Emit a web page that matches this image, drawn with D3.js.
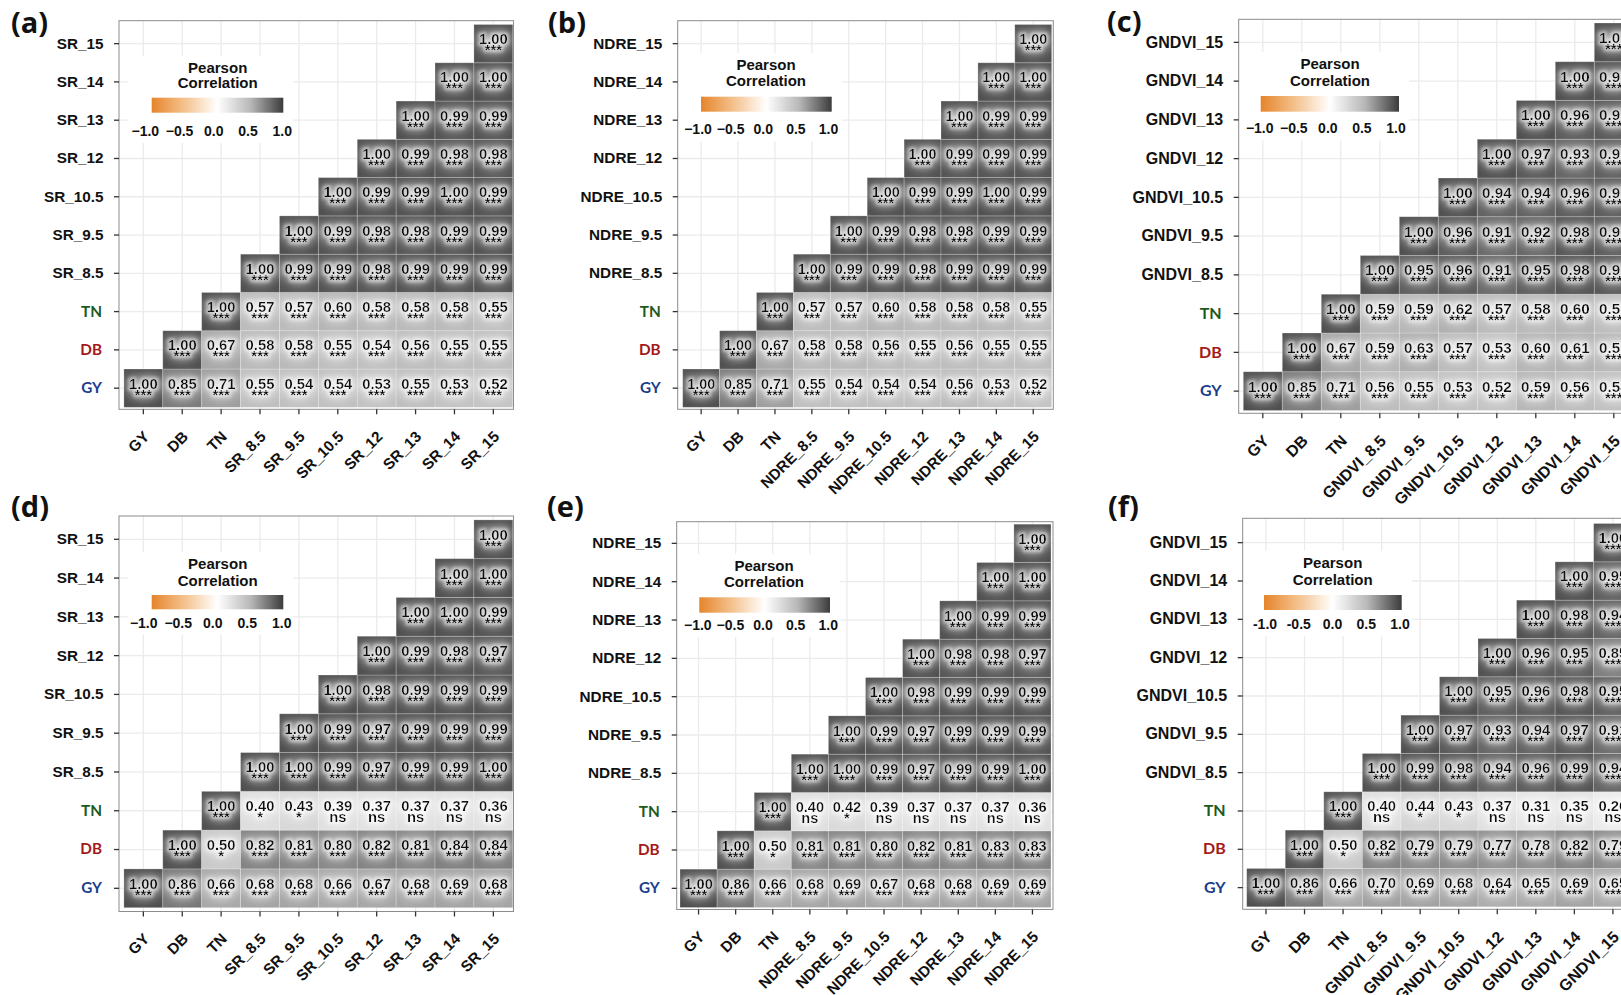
<!DOCTYPE html>
<html>
<head>
<meta charset="utf-8">
<script src="https://cdn.jsdelivr.net/npm/d3@7"></script>
<style>
  html, body { margin: 0; padding: 0; background: #fff; }
  svg { display: block; }
</style>
</head>
<body>
<svg id="fig" width="1621" height="995"></svg>
<script>
// ---- variables shown on both axes ----
const traits = ["GY", "DB", "TN"];
const stages = ["8.5", "9.5", "10.5", "12", "13", "14", "15"];

// ---- Pearson r, one row per variable (GY first), each row read from the diagonal to the right ----
const corrA = [
  [1.00, 0.85, 0.71, 0.55, 0.54, 0.54, 0.53, 0.55, 0.53, 0.52],
  [1.00, 0.67, 0.58, 0.58, 0.55, 0.54, 0.56, 0.55, 0.55],
  [1.00, 0.57, 0.57, 0.60, 0.58, 0.58, 0.58, 0.55],
  [1.00, 0.99, 0.99, 0.98, 0.99, 0.99, 0.99],
  [1.00, 0.99, 0.98, 0.98, 0.99, 0.99],
  [1.00, 0.99, 0.99, 1.00, 0.99],
  [1.00, 0.99, 0.98, 0.98],
  [1.00, 0.99, 0.99],
  [1.00, 1.00],
  [1.00]
];
const corrB = [
  [1.00, 0.85, 0.71, 0.55, 0.54, 0.54, 0.54, 0.56, 0.53, 0.52],
  [1.00, 0.67, 0.58, 0.58, 0.56, 0.55, 0.56, 0.55, 0.55],
  [1.00, 0.57, 0.57, 0.60, 0.58, 0.58, 0.58, 0.55],
  [1.00, 0.99, 0.99, 0.98, 0.99, 0.99, 0.99],
  [1.00, 0.99, 0.98, 0.98, 0.99, 0.99],
  [1.00, 0.99, 0.99, 1.00, 0.99],
  [1.00, 0.99, 0.99, 0.99],
  [1.00, 0.99, 0.99],
  [1.00, 1.00],
  [1.00]
];
const corrC = [
  [1.00, 0.85, 0.71, 0.56, 0.55, 0.53, 0.52, 0.59, 0.56, 0.54],
  [1.00, 0.67, 0.59, 0.63, 0.57, 0.53, 0.60, 0.61, 0.59],
  [1.00, 0.59, 0.59, 0.62, 0.57, 0.58, 0.60, 0.56],
  [1.00, 0.95, 0.96, 0.91, 0.95, 0.98, 0.97],
  [1.00, 0.96, 0.91, 0.92, 0.98, 0.96],
  [1.00, 0.94, 0.94, 0.96, 0.96],
  [1.00, 0.97, 0.93, 0.95],
  [1.00, 0.96, 0.97],
  [1.00, 0.98],
  [1.00]
];
const corrD = [
  [1.00, 0.86, 0.66, 0.68, 0.68, 0.66, 0.67, 0.68, 0.69, 0.68],
  [1.00, 0.50, 0.82, 0.81, 0.80, 0.82, 0.81, 0.84, 0.84],
  [1.00, 0.40, 0.43, 0.39, 0.37, 0.37, 0.37, 0.36],
  [1.00, 1.00, 0.99, 0.97, 0.99, 0.99, 1.00],
  [1.00, 0.99, 0.97, 0.99, 0.99, 0.99],
  [1.00, 0.98, 0.99, 0.99, 0.99],
  [1.00, 0.99, 0.98, 0.97],
  [1.00, 1.00, 0.99],
  [1.00, 1.00],
  [1.00]
];
const corrE = [
  [1.00, 0.86, 0.66, 0.68, 0.69, 0.67, 0.68, 0.68, 0.69, 0.69],
  [1.00, 0.50, 0.81, 0.81, 0.80, 0.82, 0.81, 0.83, 0.83],
  [1.00, 0.40, 0.42, 0.39, 0.37, 0.37, 0.37, 0.36],
  [1.00, 1.00, 0.99, 0.97, 0.99, 0.99, 1.00],
  [1.00, 0.99, 0.97, 0.99, 0.99, 0.99],
  [1.00, 0.98, 0.99, 0.99, 0.99],
  [1.00, 0.98, 0.98, 0.97],
  [1.00, 0.99, 0.99],
  [1.00, 1.00],
  [1.00]
];
const corrF = [
  [1.00, 0.86, 0.66, 0.70, 0.69, 0.68, 0.64, 0.65, 0.69, 0.65],
  [1.00, 0.50, 0.82, 0.79, 0.79, 0.77, 0.78, 0.82, 0.79],
  [1.00, 0.40, 0.44, 0.43, 0.37, 0.31, 0.35, 0.26],
  [1.00, 0.99, 0.98, 0.94, 0.96, 0.99, 0.94],
  [1.00, 0.97, 0.93, 0.94, 0.97, 0.91],
  [1.00, 0.95, 0.96, 0.98, 0.95],
  [1.00, 0.96, 0.95, 0.85],
  [1.00, 0.98, 0.94],
  [1.00, 0.95],
  [1.00]
];

// ---- significance codes (rows not listed are all "***") ----
const sigA = [], sigB = [], sigC = [];
const sigD = [
  ["***", "***", "***", "***", "***", "***", "***", "***", "***", "***"],
  ["***", "*", "***", "***", "***", "***", "***", "***", "***"],
  ["***", "*", "*", "ns", "ns", "ns", "ns", "ns"]
];
const sigE = [
  ["***", "***", "***", "***", "***", "***", "***", "***", "***", "***"],
  ["***", "*", "***", "***", "***", "***", "***", "***", "***"],
  ["***", "ns", "*", "ns", "ns", "ns", "ns", "ns"]
];
const sigF = [
  ["***", "***", "***", "***", "***", "***", "***", "***", "***", "***"],
  ["***", "*", "***", "***", "***", "***", "***", "***", "***"],
  ["***", "ns", "*", "*", "ns", "ns", "ns", "ns"]
];

// ---- legend ----
const legendTicks = [-1, -0.5, 0, 0.5, 1];

// ---- styling / layout ----
const traitColor = { GY: "#1b3c8c", DB: "#a31818", TN: "#1e5a1e" };
const FONT = "'Liberation Sans', Arial, sans-serif";
const TRAIT_FONT = "Lato, 'Open Sans', sans-serif";
const LETTER_FONT = "'Open Sans', Lato, sans-serif";

const panels = [
  { letter: "(a)", index: "SR", corr: corrA, sig: sigA,
    box: [119, 20.7, 513.5, 409.3], cells: [123.9, 24.5, 512.8, 407.3],
    axisFont: 15.3, cellFont: 14.8, letterPos: [11, 33], minus: "\u2212",
    legend: { cx: 217.7, t1: 72.7, t2: 88.3, bar: [151.7, 97.7, 283.3, 112.7], lab: 136, labX: [145.3, 282.3] } },
  { letter: "(b)", index: "NDRE", corr: corrB, sig: sigB,
    box: [677.7, 20.7, 1053.3, 409.3], cells: [682.7, 24.5, 1051.7, 407.3],
    axisFont: 15.3, cellFont: 14.4, letterPos: [548, 33], minus: "\u2212",
    legend: { cx: 766, t1: 70, t2: 86, bar: [701, 96.7, 831.7, 111.7], lab: 134.3, labX: [698, 828.5] } },
  { letter: "(c)", index: "GNDVI", corr: corrC, sig: sigC,
    box: [1238.7, 19.3, 1640, 413.3], cells: [1243.3, 23, 1633.3, 410.5],
    axisFont: 16, cellFont: 15.2, letterPos: [1107, 32], minus: "\u2212",
    legend: { cx: 1330, t1: 69, t2: 86, bar: [1260.7, 96, 1399, 111.7], lab: 133.3, labX: [1259.7, 1396] } },
  { letter: "(d)", index: "SR", corr: corrD, sig: sigD,
    box: [119, 516, 513.5, 911.5], cells: [123.9, 519.9, 512.8, 907.7],
    axisFont: 15.3, cellFont: 14.8, letterPos: [11, 517], minus: "\u2212",
    legend: { cx: 217.7, t1: 569.3, t2: 586, bar: [151.7, 595, 283.3, 609.3], lab: 627.7, labX: [143.7, 281.8] } },
  { letter: "(e)", index: "NDRE", corr: corrE, sig: sigE,
    box: [676.7, 521.7, 1053, 909.5], cells: [680, 524.2, 1051, 907.5],
    axisFont: 15.3, cellFont: 14.6, letterPos: [547, 517], minus: "\u2212",
    legend: { cx: 764, t1: 571, t2: 587.3, bar: [699.3, 597.3, 830, 612.7], lab: 630, labX: [697.8, 828.3] } },
  { letter: "(f)", index: "GNDVI", corr: corrF, sig: sigF,
    box: [1242.7, 518.3, 1640, 909.3], cells: [1246.7, 523.5, 1632.2, 906.8],
    axisFont: 16, cellFont: 14.8, letterPos: [1108, 517], minus: "-",
    legend: { cx: 1332.7, t1: 567.7, t2: 585, bar: [1264, 595, 1401.7, 610], lab: 629.3, labX: [1265, 1400] } }
];

// fill scale: orange (negative) -> white (0) -> dark grey (positive)
const fill = d3.scaleLinear()
  .domain([-1, -0.5, 0, 0.4, 0.55, 0.7, 0.85, 1])
  .range(["#e5852b", "#f4c28e", "#ffffff", "#dedede", "#bebebe", "#a0a0a0", "#7a7a7a", "#4e4e4e"])
  .interpolate(d3.interpolateRgb)
  .clamp(true);
// colour bar runs to a slightly deeper grey at +1
const barFill = d3.scaleLinear()
  .domain([-1, -0.5, 0, 0.5, 1])
  .range(["#e5852b", "#f4c28e", "#ffffff", "#b8b8b8", "#3c3c3c"]);

const svg = d3.select("#fig");
svg.append("rect").attr("width", 1621).attr("height", 995).attr("fill", "#fff");
const defs = svg.append("defs");

// soft, diffuse white halo behind the cell labels
const halo = defs.append("filter").attr("id", "halo")
  .attr("x", "-90%").attr("y", "-140%").attr("width", "280%").attr("height", "380%");
halo.append("feMorphology").attr("in", "SourceAlpha").attr("operator", "dilate").attr("radius", 1.5).attr("result", "thick");
halo.append("feGaussianBlur").attr("in", "thick").attr("stdDeviation", 6).attr("result", "soft");
halo.append("feFlood").attr("flood-color", "#fff").attr("flood-opacity", 0.8).attr("result", "white");
halo.append("feComposite").attr("in", "white").attr("in2", "soft").attr("operator", "in").attr("result", "glow");
halo.append("feGaussianBlur").attr("in", "thick").attr("stdDeviation", 1.5).attr("result", "tight");
halo.append("feFlood").attr("flood-color", "#fff").attr("flood-opacity", 0.45).attr("result", "white2");
halo.append("feComposite").attr("in", "white2").attr("in2", "tight").attr("operator", "in").attr("result", "glow2");
const hm = halo.append("feMerge");
hm.append("feMergeNode").attr("in", "glow");
hm.append("feMergeNode").attr("in", "glow2");
hm.append("feMergeNode").attr("in", "SourceGraphic");

// colour bar gradient (shared)
const grad = defs.append("linearGradient").attr("id", "corrbar")
  .attr("x1", "0%").attr("x2", "100%").attr("y1", "0%").attr("y2", "0%");
d3.range(0, 41).forEach(i => {
  const v = -1 + i / 20;
  grad.append("stop").attr("offset", (i / 40 * 100) + "%").attr("stop-color", barFill(v));
});

panels.forEach(p => {
  const vars = traits.concat(stages.map(s => p.index + "_" + s));
  const x = d3.scaleBand().domain(vars).range([p.cells[0], p.cells[2]]);
  const y = d3.scaleBand().domain(vars).range([p.cells[3], p.cells[1]]);
  const bw = x.bandwidth(), bh = y.bandwidth();
  const g = svg.append("g");

  // panel background + grid
  g.append("rect").attr("x", p.box[0]).attr("y", p.box[1])
    .attr("width", p.box[2] - p.box[0]).attr("height", p.box[3] - p.box[1]).attr("fill", "#fff");
  g.append("g").selectAll("line").data(vars).join("line")
    .attr("x1", d => x(d) + bw / 2).attr("x2", d => x(d) + bw / 2)
    .attr("y1", p.box[1]).attr("y2", p.box[3])
    .attr("stroke", "#ebebeb").attr("stroke-width", 1.3);
  g.append("g").selectAll("line").data(vars).join("line")
    .attr("y1", d => y(d) + bh / 2).attr("y2", d => y(d) + bh / 2)
    .attr("x1", p.box[0]).attr("x2", p.box[2])
    .attr("stroke", "#ebebeb").attr("stroke-width", 1.3);

  // cells (upper-right triangle incl. diagonal)
  const cells = [];
  p.corr.forEach((row, i) => row.forEach((r, k) => {
    const sigRow = p.sig[i];
    cells.push({ row: vars[i], col: vars[i + k], r: r, sig: (sigRow && sigRow[k]) || "***" });
  }));

  const tiles = g.append("g");
  tiles.selectAll("rect").data(cells).join("rect")
    .attr("x", d => x(d.col)).attr("y", d => y(d.row))
    .attr("width", bw).attr("height", bh)
    .attr("fill", d => fill(d.r))
    .attr("stroke", "rgba(255,255,255,0.28)").attr("stroke-width", 0.8);

  const lab = g.append("g").selectAll("g").data(cells).join("g")
    .attr("filter", "url(#halo)")
    .attr("transform", d => `translate(${x(d.col) + bw / 2},${y(d.row) + bh / 2})`)
    .attr("font-family", FONT).attr("font-weight", "bold")
    .attr("font-size", p.cellFont).attr("fill", "#111").attr("text-anchor", "middle");
  lab.append("text").attr("y", 0.5).text(d => d.r.toFixed(2));
  lab.append("text").attr("y", 11.5).text(d => d.sig);

  // legend (inside the panel, top-left)
  const L = p.legend;
  g.append("rect")
    .attr("x", L.bar[0] - 24).attr("y", L.t1 - 17)
    .attr("width", L.bar[2] - L.bar[0] + 34).attr("height", L.lab + 7 - (L.t1 - 17))
    .attr("fill", "#fff");
  g.append("text").attr("x", L.cx).attr("y", L.t1).attr("text-anchor", "middle")
    .attr("font-family", FONT).attr("font-weight", "bold").attr("font-size", 15).attr("fill", "#111")
    .text("Pearson");
  g.append("text").attr("x", L.cx).attr("y", L.t2).attr("text-anchor", "middle")
    .attr("font-family", FONT).attr("font-weight", "bold").attr("font-size", 15).attr("fill", "#111")
    .text("Correlation");
  g.append("rect").attr("x", L.bar[0]).attr("y", L.bar[1])
    .attr("width", L.bar[2] - L.bar[0]).attr("height", L.bar[3] - L.bar[1])
    .attr("fill", "url(#corrbar)");
  const lx = d3.scaleLinear().domain([-1, 1]).range(L.labX);
  g.append("g").selectAll("text").data(legendTicks).join("text")
    .attr("x", d => lx(d)).attr("y", L.lab).attr("text-anchor", "middle")
    .attr("font-family", FONT).attr("font-weight", "bold").attr("font-size", 14).attr("fill", "#111")
    .text(d => d3.format(".1f")(d).replace("\u2212", p.minus).replace("-", p.minus));

  // panel border
  g.append("rect").attr("x", p.box[0]).attr("y", p.box[1])
    .attr("width", p.box[2] - p.box[0]).attr("height", p.box[3] - p.box[1])
    .attr("fill", "none").attr("stroke", "#8c8c8c").attr("stroke-width", 1);

  // y axis
  const ya = g.append("g").attr("transform", `translate(${p.box[0]},0)`)
    .call(d3.axisLeft(y).tickSize(5).tickPadding(10.5));
  ya.select(".domain").remove();
  ya.selectAll(".tick line").attr("stroke", "#333").attr("stroke-width", 1.3);
  ya.selectAll(".tick text")
    .attr("font-family", d => traitColor[d] ? TRAIT_FONT : FONT)
    .attr("font-weight", "bold").attr("font-size", p.axisFont)
    .attr("fill", d => traitColor[d] || "#111")
    .attr("x", d => traitColor[d] ? -17 : -15.5);

  // x axis, labels at 45 degrees
  const xa = g.append("g").attr("transform", `translate(0,${p.box[3]})`)
    .call(d3.axisBottom(x).tickSize(5).tickPadding(0));
  xa.select(".domain").remove();
  xa.selectAll(".tick line").attr("stroke", "#333").attr("stroke-width", 1.3);
  xa.selectAll(".tick text")
    .attr("y", null).attr("dy", "0.72em").attr("text-anchor", "end")
    .attr("transform", "translate(-1,20.5) rotate(-45)")
    .attr("font-family", FONT).attr("font-weight", "bold").attr("font-size", p.axisFont).attr("fill", "#111");

  // panel letter
  svg.append("text").attr("x", p.letterPos[0]).attr("y", p.letterPos[1])
    .attr("font-family", LETTER_FONT).attr("font-weight", "bold").attr("font-size", 29).attr("fill", "#111")
    .text(p.letter);
});
</script>
</body>
</html>
